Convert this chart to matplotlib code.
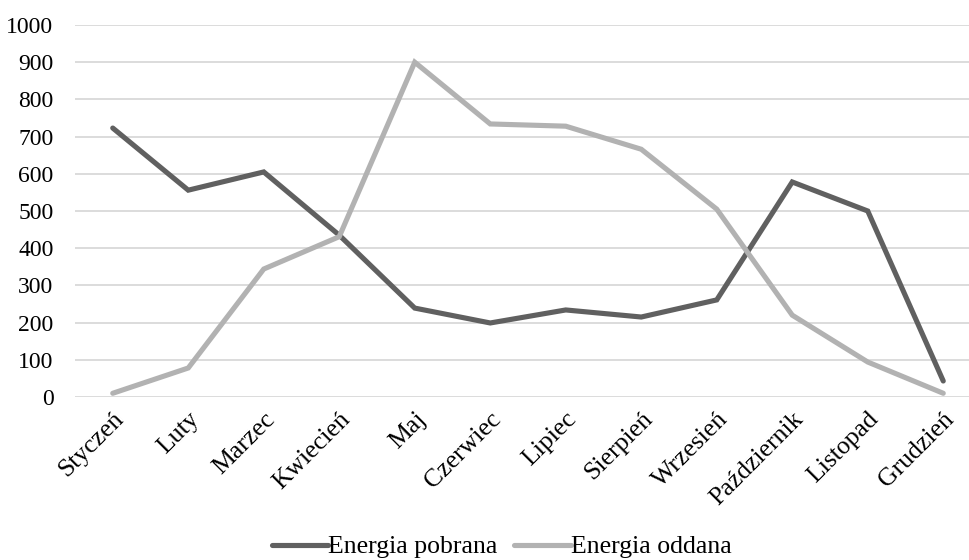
import matplotlib.pyplot as plt

months = ["Styczeń", "Luty", "Marzec", "Kwiecień", "Maj", "Czerwiec",
          "Lipiec", "Sierpień", "Wrzesień", "Październik", "Listopad", "Grudzień"]
energia_pobrana = [723, 556, 605, 435, 239, 199, 234, 215, 261, 578, 500, 43]
energia_oddana = [10, 78, 344, 431, 900, 734, 728, 666, 505, 220, 94, 10]

plt.rcParams['font.family'] = ['Liberation Serif', 'DejaVu Serif']

fig = plt.figure(figsize=(9.7, 5.6), dpi=100)
ax = fig.add_axes([75 / 970, 1 - 397 / 560, 906 / 970, 372 / 560])

x = range(len(months))
ax.plot(x, energia_pobrana, color='#606060', lw=3.7, solid_capstyle='round',
        solid_joinstyle='miter', label='Energia pobrana')
ax.plot(x, energia_oddana, color='#b2b2b2', lw=3.7, solid_capstyle='round',
        solid_joinstyle='miter', label='Energia oddana')

ax.set_xlim(-0.5, 11.5)
ax.set_ylim(0, 1000)
ax.set_yticks(range(0, 1001, 100))
ax.yaxis.grid(True, color='#d9d9d9', lw=1.3)
ax.set_axisbelow(True)
for s in ax.spines.values():
    s.set_visible(False)
ax.tick_params(length=0)
ax.tick_params(axis='y', labelsize=17, pad=15.5)
ax.set_xticks(list(x))
ax.set_xticklabels(months, rotation=45, ha='right', rotation_mode='anchor',
                   fontsize=18.5)
ax.tick_params(axis='x', pad=8)

fig.legend(loc='center', bbox_to_anchor=(0.517, 1 - 547 / 560), ncol=2,
           frameon=False, fontsize=18.5, handlelength=2.2, handletextpad=0.0,
           columnspacing=0.65)

fig.savefig('out.png', dpi=100)
